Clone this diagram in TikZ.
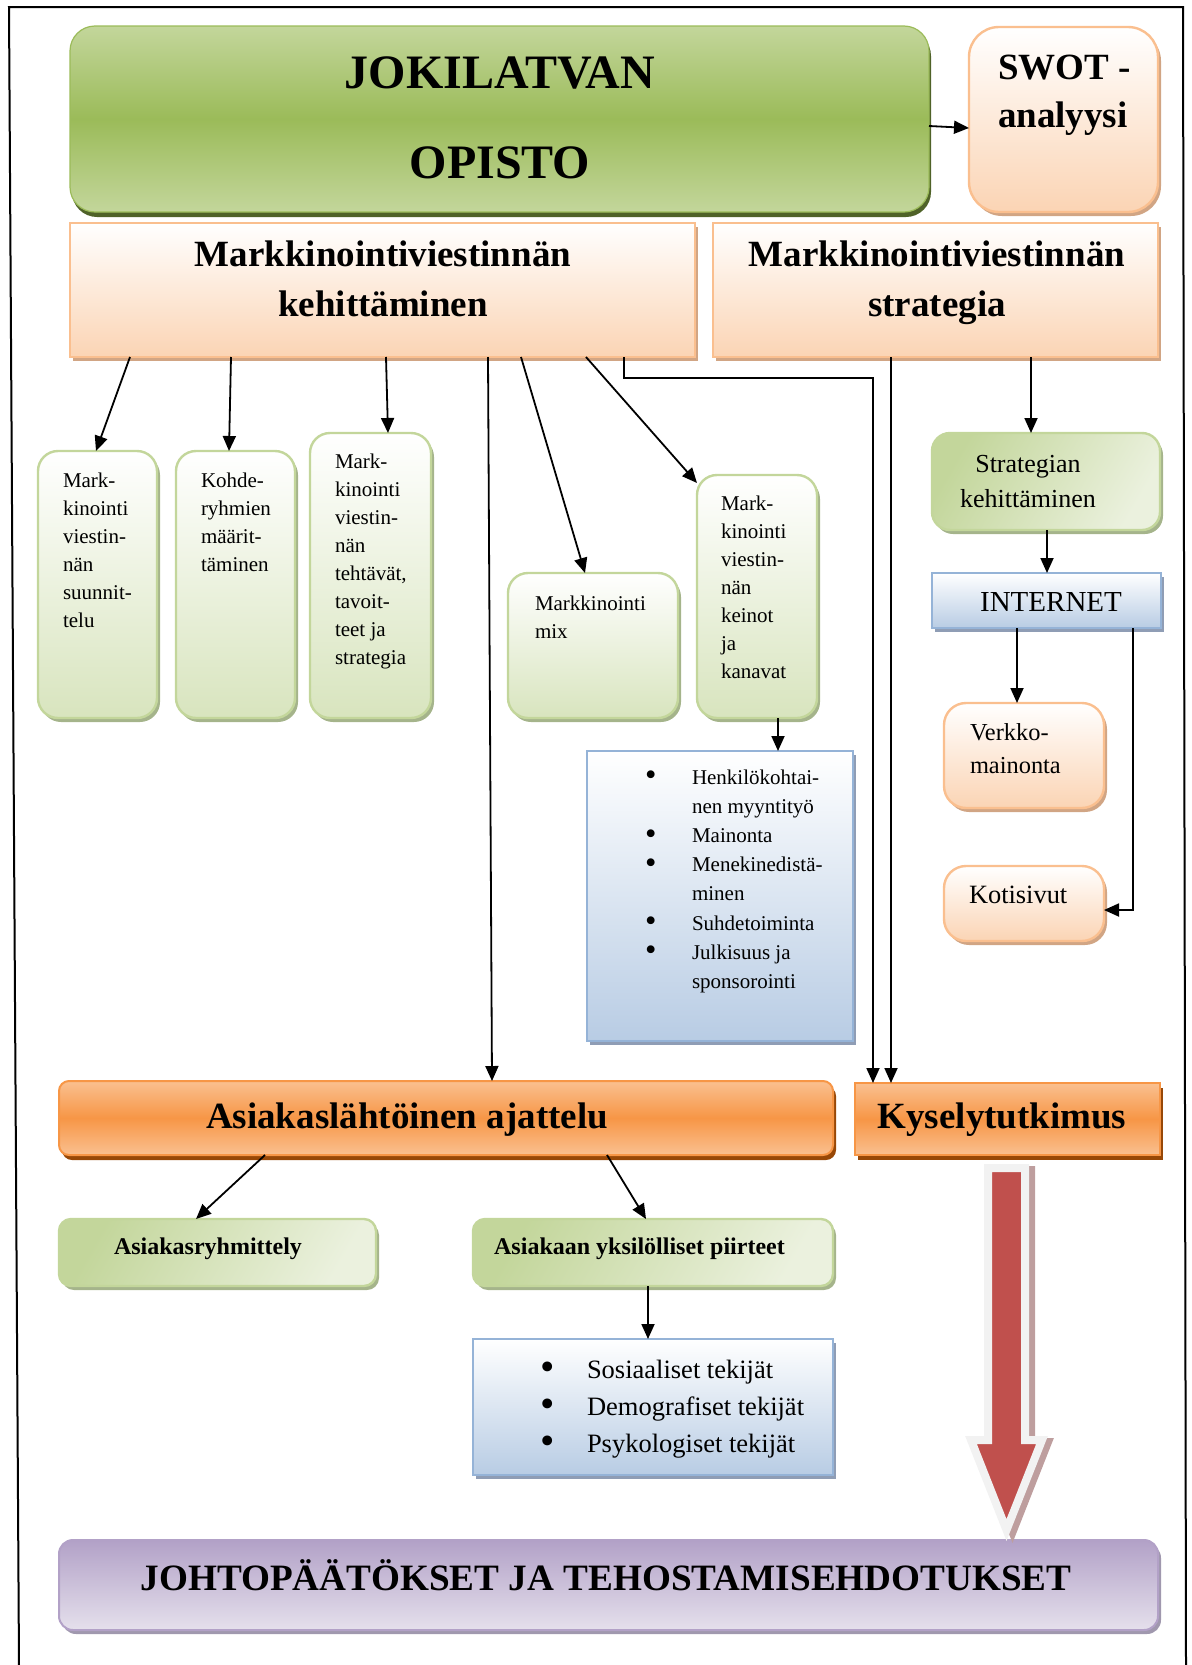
\documentclass[tikz,border=0pt]{standalone}
\usepackage{fontspec}
\setmainfont{Liberation Serif}
\usetikzlibrary{shadows,arrows.meta}
\definecolor{grnD}{HTML}{9BBB59}
\definecolor{grnL}{HTML}{C3D69B}
\definecolor{grnLL}{HTML}{EBF1DE}
\definecolor{grnS}{HTML}{A5B48B}
\definecolor{grnDS}{HTML}{4F6228}
\definecolor{pchL}{HTML}{FBD4B4}
\definecolor{pchB}{HTML}{FABF8F}
\definecolor{pchS}{HTML}{D1A584}
\definecolor{orgD}{HTML}{F79646}
\definecolor{orgL}{HTML}{FAC090}
\definecolor{orgS}{HTML}{984807}
\definecolor{bluL}{HTML}{B8CCE4}
\definecolor{bluB}{HTML}{95B3D7}
\definecolor{bluS}{HTML}{8F9DB5}
\definecolor{purD}{HTML}{B2A1C7}
\definecolor{purL}{HTML}{E5E0EC}
\definecolor{purS}{HTML}{A098AE}
\definecolor{redA}{HTML}{C0504D}
\definecolor{redS}{HTML}{BE9E9E}
\newcommand\lstbul{\makebox[23.5pt][l]{\raisebox{-0.08em}{\scalebox{1.55}{\textbullet}}}}
\newcommand\lstind{\hspace*{23.5pt}}
\tikzset{
  box/.style={anchor=north west, inner sep=0pt, outer sep=0pt},
  opistobox/.style={box, draw=grnD, line width=0.6pt, rounded corners=12.5pt, top color=grnL, bottom color=grnL, middle color=grnD, drop shadow={shadow xshift=1pt, shadow yshift=-2.5pt, fill=grnDS, opacity=1}},
  peachbox/.style={box, draw=pchB, line width=1.2pt, top color=white, bottom color=pchL, drop shadow={shadow xshift=1.5pt, shadow yshift=-2pt, fill=pchS, opacity=1}},
  greenbox/.style={box, draw=grnL, line width=1.2pt, rounded corners=10pt, top color=white, bottom color=grnL!65!white, drop shadow={shadow xshift=1.5pt, shadow yshift=-2pt, fill=grnS, opacity=1}},
  greendiag/.style={greenbox, left color=grnL, right color=grnLL, shading angle=60},
  bluebox/.style={box, draw=bluB, line width=1.2pt, top color=white, bottom color=bluL, drop shadow={shadow xshift=1.5pt, shadow yshift=-2pt, fill=bluS, opacity=1}},
  orangebox/.style={box, draw=orgD, line width=1pt, top color=orgL, bottom color=orgL, middle color=orgD, drop shadow={shadow xshift=1.5pt, shadow yshift=-2.5pt, fill=orgS, opacity=1}},
  purplebox/.style={box, draw=purD, line width=1pt, rounded corners=7pt, top color=purD, bottom color=purL, drop shadow={shadow xshift=1.5pt, shadow yshift=-2pt, fill=purS, opacity=1}},
  txt/.style={inner sep=0pt, outer sep=0pt, align=left},
  small/.style={txt, anchor=north west, font=\fontsize{10.5}{14}\selectfont},
  arr/.style={line width=0.9pt, -{Triangle[length=7.5pt,width=6.5pt]}},
  bigarrow/.style={fill=redA, draw=gray!10, line width=4pt, drop shadow={shadow xshift=3pt, shadow yshift=-1pt, fill=redS, draw=redS, line width=4pt, opacity=1}}
}
\begin{document}
\begin{tikzpicture}[x=0.5pt, y=-0.5pt]
\useasboundingbox (0,0) rectangle (1192,1665);
\draw[line width=1pt] (19,1665) -- (9,7) -- (1183,7) -- (1186,1665);

\node[opistobox, minimum width=429.5pt, minimum height=93pt] (opisto) at (70,26) {};
\node[peachbox, rounded corners=15pt, minimum width=94.5pt, minimum height=92.5pt] (swot) at (969,27) {};
\node[peachbox, minimum width=312.5pt, minimum height=67pt] (kehit) at (70,223) {};
\node[peachbox, minimum width=222.5pt, minimum height=67pt] (strat) at (713,223) {};
\node[greenbox, minimum width=59.5pt, minimum height=133.5pt] (suunn) at (38,451) {};
\node[greenbox, minimum width=59.5pt, minimum height=133.5pt] (kohde) at (176,451) {};
\node[greenbox, minimum width=60.5pt, minimum height=142.5pt] (tehtav) at (310,433) {};
\node[greenbox, minimum width=85pt, minimum height=72.5pt] (mix) at (508,573) {};
\node[greenbox, minimum width=60pt, minimum height=121.5pt] (keinot) at (697,475) {};
\node[bluebox, minimum width=133pt, minimum height=145pt] (lista) at (587,751) {};
\node[greendiag, rounded corners=9pt, minimum width=114pt, minimum height=48.5pt] (strkeh) at (932,433) {};
\node[bluebox, minimum width=114.5pt, minimum height=27.5pt] (internet) at (932,573) {};
\node[peachbox, rounded corners=11pt, minimum width=80pt, minimum height=52.5pt] (verkko) at (944,703) {};
\node[peachbox, rounded corners=11pt, minimum width=80pt, minimum height=37.5pt] (koti) at (944,866) {};
\node[orangebox, rounded corners=5pt, minimum width=387pt, minimum height=37pt] (asiakas) at (59,1081) {};
\node[orangebox, minimum width=152.5pt, minimum height=36pt] (kysely) at (855,1083) {};
\node[greendiag, rounded corners=6pt, minimum width=158.5pt, minimum height=33.5pt] (ryhm) at (59,1219) {};
\node[greendiag, rounded corners=6pt, minimum width=180pt, minimum height=33.5pt] (yksil) at (473,1219) {};
\node[bluebox, minimum width=180pt, minimum height=68pt] (tekijat) at (473,1339) {};
\node[purplebox, minimum width=549.5pt, minimum height=45pt] (johto) at (59,1540) {};

\node[txt, anchor=north, align=center, font=\fontsize{24}{45}\bfseries] (opistot) at (500,57) {JOKILATVAN\\OPISTO};
\node[txt, anchor=north west, font=\fontsize{18.5}{24}\bfseries] (swott) at (998,55) {SWOT -\\analyysi};
\node[txt, anchor=north, align=center, font=\fontsize{18.5}{25}\bfseries] (kehitt) at (383,241) {Markkinointiviestinnän\\kehittäminen};
\node[txt, anchor=north, align=center, font=\fontsize{18.5}{25}\bfseries] (stratt) at (937,241) {Markkinointiviestinnän\\strategia};
\node[small] (suunnt) at (63,472.5) {Mark-\\kinointi\\viestin-\\nän\\suunnit-\\telu};
\node[small] (kohdet) at (201,472.5) {Kohde-\\ryhmien\\määrit-\\täminen};
\node[small] (tehtavt) at (335,453.5) {Mark-\\kinointi\\viestin-\\nän\\tehtävät,\\tavoit-\\teet ja\\strategia};
\node[small] (mixt) at (535,596) {Markkinointi\\mix};
\node[small] (keinott) at (721,496) {Mark-\\kinointi\\viestin-\\nän\\keinot\\ja\\kanavat};
\node[small, font=\fontsize{10.5}{14.6}\selectfont] (listat) at (645,769.5) {\lstbul Henkilökohtai-\\\lstind nen myyntityö\\\lstbul Mainonta\\\lstbul Menekinedistä-\\\lstind minen\\\lstbul Suhdetoiminta\\\lstbul Julkisuus ja\\\lstind sponsorointi};
\node[txt, anchor=north, align=center, font=\fontsize{13}{17.7}\selectfont] (strkeht) at (1028,455) {Strategian\\kehittäminen};
\node[txt, anchor=base, font=\fontsize{14.5}{17}\selectfont] (internett) at (1051,611.6) {INTERNET};
\node[txt, anchor=north west, font=\fontsize{12.2}{16.7}\selectfont] (verkkot) at (970,723.5) {Verkko-\\mainonta};
\node[txt, anchor=base west, font=\fontsize{13.2}{16}\selectfont] (kotit) at (969,903) {Kotisivut};
\node[txt, anchor=base, font=\fontsize{18.5}{22}\bfseries] (asiakast) at (407,1128.4) {Asiakaslähtöinen ajattelu};
\node[txt, anchor=base, font=\fontsize{18.5}{22}\bfseries] (kyselyt) at (1002,1128.4) {Kyselytutkimus};
\node[txt, anchor=base, font=\fontsize{12}{14}\bfseries] (ryhmt) at (208,1254.7) {Asiakasryhmittely};
\node[txt, anchor=base, font=\fontsize{12}{14}\bfseries] (yksilt) at (639.5,1254.7) {Asiakaan yksilölliset piirteet};
\node[txt, anchor=north west, font=\fontsize{13.25}{18.6}\selectfont] (tekijatt) at (540,1360) {\lstbul Sosiaaliset tekijät\\\lstbul Demografiset tekijät\\\lstbul Psykologiset tekijät};
\node[txt, anchor=base, font=\fontsize{18.6}{22}\bfseries] (johtot) at (606,1590.4) {JOHTOPÄÄTÖKSET JA TEHOSTAMISEHDOTUKSET};

\draw[arr] (opisto.east |- 0,126) -- (swot.west |- 0,128);
\draw[arr] (kehit.south -| 130,0) -- (suunn.north -| 96,0);
\draw[arr] (kehit.south -| 231,0) -- (kohde.north -| 229,0);
\draw[arr] (kehit.south -| 386,0) -- (tehtav.north -| 388,0);
\draw[arr] (kehit.south -| 488,0) -- (asiakas.north -| 492,0);
\draw[arr] (kehit.south -| 521,0) -- (mix.north -| 585,0);
\draw[arr] (kehit.south -| 586,0) -- (keinot.west |- 0,483);
\draw[arr] (kehit.south -| 624,0) -- ++(0,21) -| (kysely.north -| 873,0);
\draw[arr] (strat.south -| 891,0) -- (kysely.north -| 891,0);
\draw[arr] (strat.south -| 1031,0) -- (strkeh.north -| 1031,0);
\draw[arr] (strkeh.south -| 1047,0) -- (internet.north -| 1047,0);
\draw[arr] (internet.south -| 1017,0) -- (verkko.north -| 1017,0);
\draw[arr] (internet.south -| 1133,0) |- (koti.east |- 0,910);
\draw[arr] (keinot.south -| 778,0) -- (lista.north -| 778,0);
\draw[arr] (asiakas.south -| 265,0) -- (ryhm.north -| 196,0);
\draw[arr] (asiakas.south -| 607,0) -- (yksil.north -| 646,0);
\draw[arr] (yksil.south -| 648,0) -- (tekijat.north -| 648,0);

\filldraw[bigarrow] (988,1168) -- (1025,1168) -- (1025,1440) -- (1042,1440) -- (1006.5,1530) -- (971,1440) -- (988,1440) -- cycle;
\end{tikzpicture}
\end{document}
